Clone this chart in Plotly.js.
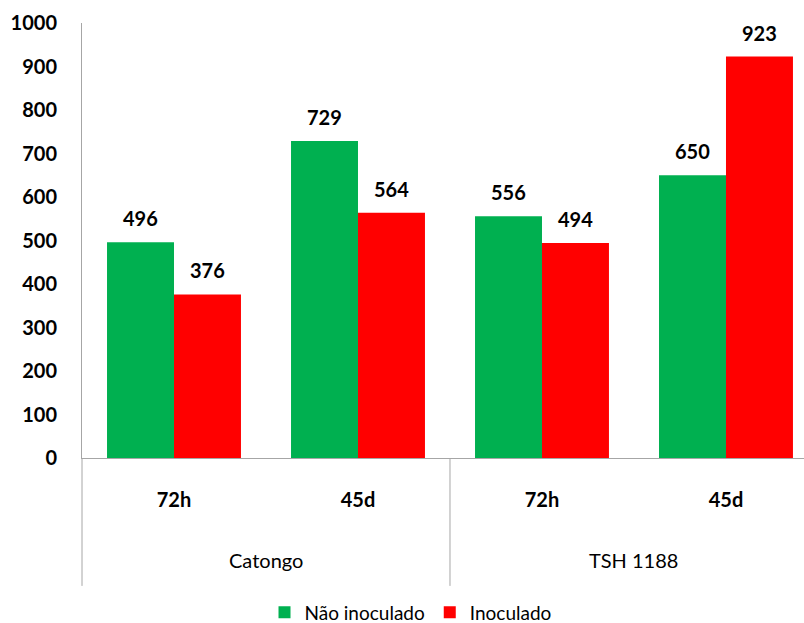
<!DOCTYPE html>
<html><head><meta charset="utf-8">
<script src="https://cdn.plot.ly/plotly-3.0.1.min.js"></script>
<style>body{margin:0;background:#fff}#c{width:804px;height:623px}</style>
</head><body><div id="c"></div>
<script>
const groups = ["Catongo", "Catongo", "TSH 1188", "TSH 1188"];
const times = ["72h", "45d", "72h", "45d"];
const naoInoculado = [496, 729, 556, 650];
const inoculado = [376, 564, 494, 923];
const seriesNames = ["Não inoculado", "Inoculado"];
const groupLabels = ["Catongo", "TSH 1188"];
const yTicks = [0, 100, 200, 300, 400, 500, 600, 700, 800, 900, 1000];

const cats = groups.map((g, i) => g + " " + times[i]);
const FONT = "Lato, 'Open Sans', sans-serif";
const GREEN = "#00b050", RED = "#ff0000", AX = "#a6a6a6";

const traces = [
  {type: "bar", name: seriesNames[0], x: cats, y: naoInoculado, marker: {color: GREEN}, hoverinfo: "none"},
  {type: "bar", name: seriesNames[1], x: cats, y: inoculado, marker: {color: RED}, hoverinfo: "none"}
];

const annotations = [];
[naoInoculado, inoculado].forEach((vals, s) => {
  vals.forEach((v, i) => {
    annotations.push({x: cats[i], y: v, xref: "x", yref: "y", text: String(v), showarrow: false,
      xshift: s === 0 ? -33.5 : 33.5, yshift: 24, yanchor: "middle",
      font: {family: FONT, size: 20, color: "#000", weight: "bold"}});
  });
});
groupLabels.forEach((g, k) => {
  annotations.push({x: 2 * k + 0.5, y: -0.2345, xref: "x", yref: "paper", text: g, showarrow: false,
    yanchor: "middle", font: {family: FONT, size: 20, color: "#000"}});
});

const shapes = [
  {type: "line", xref: "paper", yref: "paper", x0: 0, x1: 0, y0: 0, y1: -0.294, line: {color: AX, width: 1}},
  {type: "line", xref: "x", yref: "paper", x0: 1.5, x1: 1.5, y0: 0, y1: -0.294, line: {color: AX, width: 1}}
];

const layout = {
  width: 804, height: 623,
  margin: {l: 82, r: 0, t: 23, b: 165, autoexpand: false},
  paper_bgcolor: "#fff", plot_bgcolor: "#fff",
  font: {family: FONT, size: 19, color: "#000"},
  barmode: "group", bargap: 0.272, bargroupgap: 0,
  showlegend: true,
  legend: {orientation: "h", x: 0.455, xanchor: "center", y: -0.355, yanchor: "middle",
    font: {family: FONT, size: 19, color: "#000"}, itemwidth: 30, traceorder: "normal"},
  xaxis: {type: "category", range: [-0.5, 3.424], tickmode: "array", tickvals: cats, ticktext: times,
    showline: true, linecolor: AX, linewidth: 1, ticks: "", showgrid: false, zeroline: false,
    ticklabelstandoff: 24, tickfont: {family: FONT, size: 20, color: "#000", weight: "bold"}, fixedrange: true},
  yaxis: {range: [0, 1000], tickmode: "array", tickvals: yTicks, showline: true, linecolor: AX, linewidth: 1,
    ticks: "", showgrid: false, zeroline: false, ticklabelstandoff: 20,
    tickfont: {family: FONT, size: 20, color: "#000", weight: "bold"}, fixedrange: true},
  annotations: annotations, shapes: shapes
};
Plotly.newPlot("c", traces, layout, {displayModeBar: false, staticPlot: true});
</script></body></html>
